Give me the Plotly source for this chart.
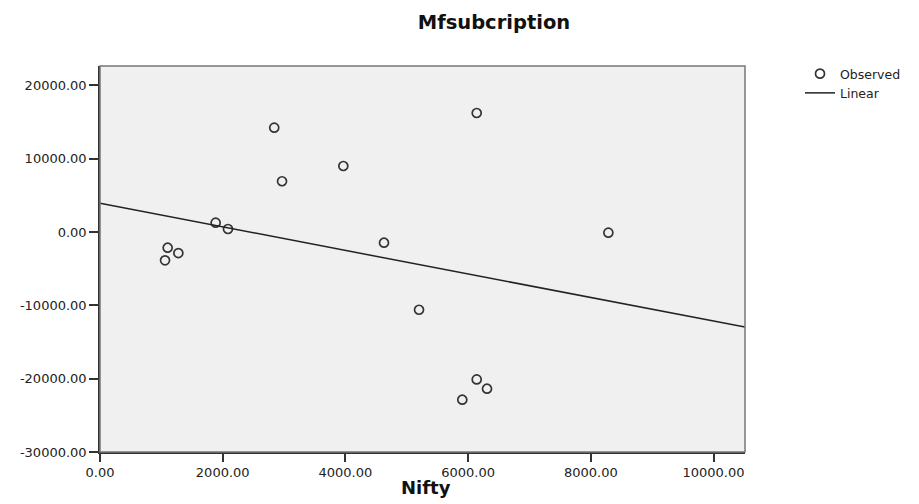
import numpy as np
import plotly.graph_objects as go

nifty = [2840, 3966, 2967, 1885, 2086, 4629, 1103, 1277, 1060, 6140, 8286, 5200, 6140, 6308, 5905]
mfsub = [14230, 9000, 6920, 1270, 410, -1460, -2140, -2870, -3860, 16230, -90, -10600, -20100, -21370, -22870]
x_ticks = [0, 2000, 4000, 6000, 8000, 10000]
y_ticks = [-30000, -20000, -10000, 0, 10000, 20000]
x_range = [0, 10513]
y_range = [-30000, 22640]

slope, intercept = np.polyfit(nifty, mfsub, 1)
line_x = np.array(x_range, dtype=float)
line_y = intercept + slope * line_x

FONT = "DejaVu Sans, Verdana, sans-serif"

fig = go.Figure()
fig.add_trace(go.Scatter(
    x=nifty, y=mfsub, mode="markers", name="Observed",
    marker=dict(symbol="circle-open", size=9, color="#333333", line=dict(width=1.7, color="#2a2a2a")),
))
fig.add_trace(go.Scatter(
    x=line_x, y=line_y, mode="lines", name="Linear",
    line=dict(color="#222222", width=1.5),
))

fig.update_layout(
    width=919, height=504,
    margin=dict(l=100, r=174, t=66, b=52),
    paper_bgcolor="white", plot_bgcolor="#f0f0f0",
    font=dict(family=FONT, size=13, color="#222222"),
    title=dict(text="<b>Mfsubcription</b>", x=(494 - 100) / 645, xref="paper", xanchor="center",
               y=1 - 22 / 504, yanchor="middle", font=dict(size=19.5, color="#111111")),
    showlegend=True,
    legend=dict(x=(800 - 100) / 645, y=1 + 7 / 386, xanchor="left", yanchor="top", bgcolor="rgba(0,0,0,0)",
                font=dict(size=12.5, color="#222222"), itemwidth=30, tracegroupgap=0),
    annotations=[dict(text="<b>Nifty</b>", xref="paper", yref="paper", x=(426 - 100) / 645,
                      y=-(487 - 452) / 386, xanchor="center", yanchor="middle", showarrow=False,
                      font=dict(size=18, color="#111111"))],
)
fig.update_xaxes(
    range=x_range, tickvals=x_ticks, ticktext=[f"{v:.2f}" for v in x_ticks], automargin=False,
    showgrid=False, zeroline=False, showline=True, linecolor="#333333", linewidth=1.5,
    ticks="outside", ticklen=8, tickwidth=1.5, tickcolor="#333333",
)
fig.update_yaxes(
    range=y_range, tickvals=y_ticks, ticktext=[f"{v:.2f}" for v in y_ticks], automargin=False,
    showgrid=False, zeroline=False, showline=True, linecolor="#333333", linewidth=1.5,
    ticks="outside", ticklen=9, tickwidth=1.5, tickcolor="#333333",
)
fig.add_shape(type="rect", xref="paper", yref="paper", x0=0, y0=0, x1=1, y1=1,
              line=dict(color="#777777", width=1.5), layer="above")
fig.write_html("out.html")
